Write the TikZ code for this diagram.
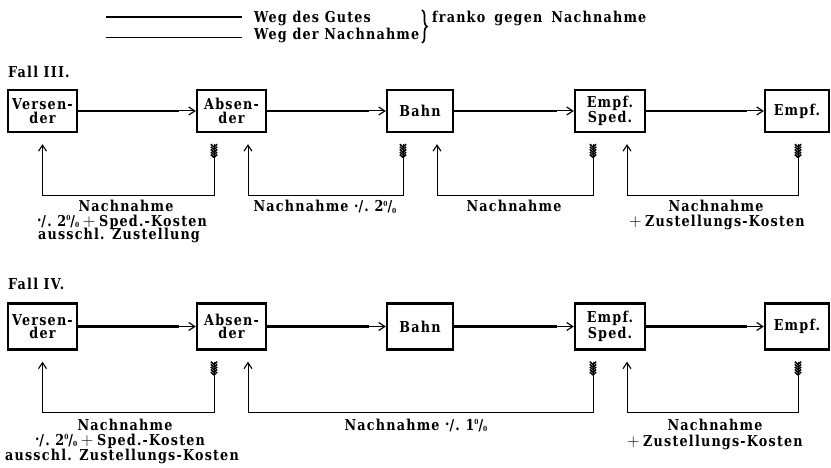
\documentclass[tikz,border=0pt]{standalone}
\usepackage{fontspec}
\setmainfont{DejaVu Serif}[FakeStretch=0.85, LetterSpace=8]
\usetikzlibrary{arrows.meta,calc,decorations.pathreplacing}
\begin{document}
\begin{tikzpicture}[x=1pt,y=-1pt,
  txt/.style={font=\fontsize{15}{14}\selectfont\bfseries, inner sep=0pt},
  boxtxt/.style={font=\fontsize{15}{13.5}\selectfont\bfseries},
  party/.style={draw, line width=2.4pt, boxtxt, align=center, inner sep=0pt},
  goods/.style={line width=2.4pt},
  tipline/.style={line width=1pt, -{Straight Barb[length=6pt,width=8pt,line width=1.2pt]}},
  money/.style={line width=0.9pt},
  moneytip/.style={money, -{Straight Barb[length=6pt,width=8pt,line width=1.1pt]}},
  fletch/.pic={
    \foreach \k in {0,...,4}{
      \draw[line width=1.5pt] (-3.2,\k*2.6) -- (0,\k*2.6+2.8) -- (3.2,\k*2.6);}
  }]
\newcommand\pct[1]{\raisebox{0.75ex}{\scriptsize #1}/\raisebox{-0.25ex}{\scriptsize 0}}
\newcommand\minus{\raisebox{0.55ex}{.}/.}
\newcommand\plus{\hspace{0.25em}{\fontsize{19}{19}\selectfont$+$}\hspace{0.25em}}
\newcommand\goodsflow[2]{%
  \draw[goods] (#1.east) -- ($(#2.west)+(-17,0)$) coordinate (#1-#2);
  \draw[tipline] (#1-#2) -- (#2.west);}
% from a fletched tail below node #1 (offset #2) along level #5 to an arrow below node #3 (offset #4)
\newcommand\moneyflow[5]{%
  \path ($(#1.south)+(#2,11)$) coordinate (#1-tail) pic {fletch};
  \path ($(#3.south)+(#4,11)$) coordinate (#3-head);
  \draw[moneytip] (#1-tail) -- (#1-tail |- 0,#5) -| (#3-head);}

\useasboundingbox (0,0) rectangle (831,468);

% legend
\coordinate (lg1) at (106,17);
\coordinate (lg2) at (106,37);
\draw[goods] (lg1) -- ++(136,0) coordinate (lg1e);
\draw[money] (lg2) -- ++(136,0) coordinate (lg2e);
\node[txt, anchor=base west] (leggut) at (254,23) {Weg des Gutes};
\node[txt, anchor=base west] (legnach) at (254,40) {Weg der Nachnahme};
\coordinate (brtop) at (422,10);
\coordinate (brbot) at (422,43);
\draw[line width=1.6pt, decorate, decoration={brace, amplitude=5pt}] (brtop) -- (brbot);
\node[txt, anchor=base west] (franko) at (432,23) {franko\hspace{0.6em}gegen\hspace{0.6em}Nachnahme};

% ---------- Fall III ----------
\node[txt, anchor=base west] (fall3) at (8,78) {Fall III.};
\node[party, minimum width=69pt, minimum height=42pt] (vers1) at (42.5,111) {Versen-\\der};
\node[party, minimum width=69pt, minimum height=42pt] (abs1) at (231.5,111) {Absen-\\der};
\node[party, minimum width=66pt, minimum height=42pt] (bahn1) at (420,111) {Bahn};
\node[party, minimum width=70pt, minimum height=42pt] (sped1) at (610,111) {Empf.\\Sped.};
\node[party, minimum width=64pt, minimum height=42pt] (empf1) at (797,111) {Empf.};

\goodsflow{vers1}{abs1}
\goodsflow{abs1}{bahn1}
\goodsflow{bahn1}{sped1}
\goodsflow{sped1}{empf1}

\moneyflow{abs1}{-17.5}{vers1}{0}{195}
\moneyflow{bahn1}{-17}{abs1}{16.5}{195}
\moneyflow{sped1}{-17}{bahn1}{17}{195}
\moneyflow{empf1}{1}{sped1}{17}{195}

\node[txt, anchor=base] (l31a) at (126,212) {Nachnahme};
\node[txt, anchor=base] (l31b) at (122,226) {\minus\ 2\pct{0}\plus Sped.-Kosten};
\node[txt, anchor=base] (l31c) at (119,240) {ausschl. Zustellung};
\node[txt, anchor=base] (l32) at (325,212) {Nachnahme \minus\ 2\pct{0}};
\node[txt, anchor=base] (l33) at (514,212) {Nachnahme};
\node[txt, anchor=base] (l34a) at (716,212) {Nachnahme};
\node[txt, anchor=base] (l34b) at (715,227) {\plus Zustellungs-Kosten};

% ---------- Fall IV ----------
\node[txt, anchor=base west] (fall4) at (8,290) {Fall IV.};
\node[party, minimum width=69pt, minimum height=46pt] (vers2) at (42.5,326.5) {Versen-\\der};
\node[party, minimum width=69pt, minimum height=46pt] (abs2) at (231.5,326.5) {Absen-\\der};
\node[party, minimum width=66pt, minimum height=46pt] (bahn2) at (420,326.5) {Bahn};
\node[party, minimum width=70pt, minimum height=46pt] (sped2) at (610,326.5) {Empf.\\Sped.};
\node[party, minimum width=64pt, minimum height=46pt] (empf2) at (797,326.5) {Empf.};

\goodsflow{vers2}{abs2}
\goodsflow{abs2}{bahn2}
\goodsflow{bahn2}{sped2}
\goodsflow{sped2}{empf2}

\moneyflow{abs2}{-17.5}{vers2}{0}{412}
\moneyflow{sped2}{-17}{abs2}{16.5}{412}
\moneyflow{empf2}{1}{sped2}{17}{412}

\node[txt, anchor=base] (l41a) at (125,430) {Nachnahme};
\node[txt, anchor=base] (l41b) at (120,445) {\minus\ 2\pct{0}\plus Sped.-Kosten};
\node[txt, anchor=base] (l41c) at (122,460) {ausschl. Zustellungs-Kosten};
\node[txt, anchor=base] (l42) at (416,430) {Nachnahme \minus\ 1\pct{0}};
\node[txt, anchor=base] (l43a) at (715,430) {Nachnahme};
\node[txt, anchor=base] (l43b) at (713,446) {\plus Zustellungs-Kosten};
\end{tikzpicture}
\end{document}
